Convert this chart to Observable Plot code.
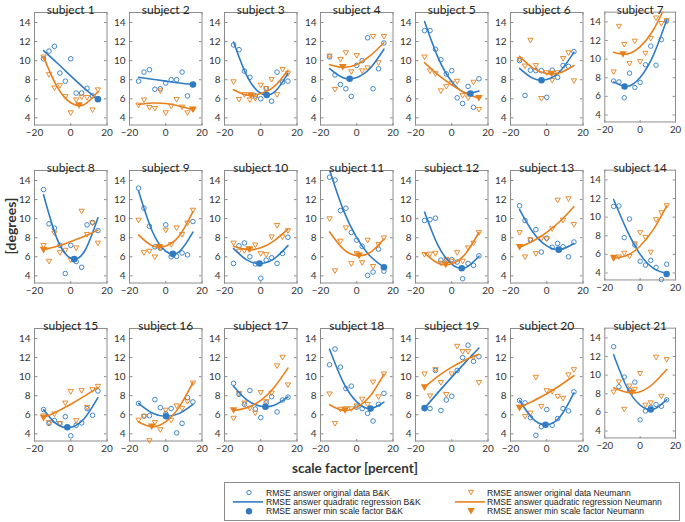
<!DOCTYPE html>
<html><head><meta charset="utf-8">
<script src="https://cdn.jsdelivr.net/npm/d3@7"></script>
<script src="https://cdn.jsdelivr.net/npm/@observablehq/plot@0.6"></script>
<style>
body{margin:0;background:#fff;}
#fig{position:relative;width:685px;height:522px;overflow:hidden;background:#fff;font-family:Lato,"Liberation Sans",sans-serif;}
.panel{position:absolute;}
.panel svg{overflow:visible;}
.lab{position:absolute;font-weight:bold;color:#333;white-space:nowrap;}
</style></head><body><div id="fig"></div>
<script>
// ---------- data ----------
const subjects = ["subject 1","subject 2","subject 3","subject 4","subject 5","subject 6","subject 7",
  "subject 8","subject 9","subject 10","subject 11","subject 12","subject 13","subject 14",
  "subject 15","subject 16","subject 17","subject 18","subject 19","subject 20","subject 21"];
const scaleFactors = [-15,-12,-9,-6,-3,0,3,6,9,12,15];
const fitX = [-15,-7.5,0,7.5,15];
const xTicks = [-20,0,20];
const yTicks = [4,6,8,10,12,14];

// RMSE answer original data B&K (per subject, at scaleFactors)
const bkData = [
  [10.2,11.0,11.5,8.7,7.85,10.2,6.6,6.6,7.1,6.3,6.0],
  [7.85,8.8,9.05,7.0,7.05,7.65,8.0,8.0,8.8,6.3,7.5],
  [11.65,11.15,8.9,8.25,6.3,6.0,7.05,5.75,8.8,7.75,7.85],
  [10.4,8.5,7.5,7.05,6.25,9.5,10.0,12.4,7.05,9.15,11.85],
  [13.15,13.15,11.2,10.1,8.6,8.95,6.1,5.5,7.3,5.1,8.1],
  [10.0,6.35,9.0,8.95,8.95,6.15,9.0,8.25,9.5,9.4,10.95],
  [7.65,7.55,5.85,8.5,6.95,7.5,9.4,11.4,9.35,12.1,14.1],
  [13.05,9.45,9.0,7.2,4.25,7.2,5.5,4.9,9.35,9.6,8.75],
  [13.2,11.1,9.2,7.05,6.9,9.35,6.0,6.05,6.4,6.2,9.7],
  [5.3,7.15,7.45,6.0,5.25,3.75,5.65,5.9,5.3,6.35,8.05],
  [14.35,14.05,10.85,11.1,8.55,7.75,7.1,4.05,4.4,6.8,4.5],
  [9.8,9.9,10.05,5.65,5.6,5.7,5.45,3.7,5.3,5.1,6.1],
  [11.35,9.8,7.75,8.85,6.5,7.95,7.0,7.4,7.05,6.0,7.55],
  [11.15,11.2,7.8,9.8,7.0,5.25,4.85,5.35,4.6,3.3,4.95],
  [6.55,5.1,5.4,5.05,5.8,3.8,4.9,5.15,6.65,5.95,8.5],
  [7.2,5.85,5.9,7.6,6.75,6.1,6.65,4.1,5.1,7.8,7.35],
  [9.3,8.15,7.1,8.55,6.6,5.7,7.25,7.9,6.3,7.55,7.85],
  [11.25,12.9,11.0,8.75,9.0,6.8,6.65,6.15,5.35,7.1,8.25],
  [6.65,6.65,10.65,6.45,7.55,7.95,10.65,12.0,13.3,11.6,12.1],
  [7.5,7.25,5.7,3.85,4.75,6.55,4.9,5.6,6.65,6.4,8.4],
  [13.05,8.75,9.8,8.4,9.25,5.2,6.15,6.55,6.85,6.65,7.35]
];
// RMSE answer original data Neumann
const neuData = [
  [10.35,8.5,7.1,7.35,6.2,4.5,5.85,6.15,6.1,4.8,6.9],
  [5.3,5.85,5.05,4.95,6.8,4.5,5.2,5.9,5.1,4.5,4.85],
  [7.75,5.9,6.4,5.85,6.0,7.4,7.05,8.0,6.4,9.05,8.6],
  [10.45,6.95,10.1,10.8,8.8,10.5,8.9,9.2,12.5,9.75,12.5],
  [10.35,8.9,8.6,6.8,7.25,7.6,7.8,6.3,6.05,7.7,4.85],
  [10.1,9.4,12.1,9.45,6.0,8.7,7.9,8.7,10.2,10.8,7.85],
  [8.6,13.5,11.55,9.5,11.9,9.7,10.6,12.2,14.4,13.8,14.1],
  [7.15,5.5,8.45,6.4,6.65,5.65,6.9,10.75,8.3,9.5,7.4],
  [9.8,6.4,6.55,5.95,6.9,8.75,7.25,9.0,8.3,9.5,10.85],
  [7.4,6.55,6.6,6.75,7.2,6.3,6.2,8.05,9.25,8.05,8.7],
  [9.95,4.5,7.6,9.0,5.25,6.3,5.35,7.7,4.95,7.25,7.95],
  [6.2,6.25,6.3,5.3,5.7,5.5,6.4,5.5,6.9,7.4,8.5],
  [8.5,5.95,7.75,6.3,7.85,7.85,8.9,11.9,9.8,12.05,9.35],
  [5.5,5.7,6.1,5.75,7.1,8.3,7.8,6.2,9.7,10.45,11.2],
  [5.85,5.15,6.05,5.05,7.2,8.4,5.35,8.5,6.75,8.6,8.95],
  [5.4,5.8,3.25,5.15,4.4,6.45,5.4,6.9,6.65,7.35,9.3],
  [5.6,8.2,7.2,6.65,6.15,8.3,7.35,8.25,11.1,12.0,9.1],
  [8.15,5.05,6.55,6.6,6.6,6.9,7.6,7.05,9.4,7.85,10.25],
  [10.25,7.95,10.7,9.35,8.1,10.25,13.15,12.6,12.6,12.0,9.35],
  [6.75,5.8,6.15,9.9,6.85,8.5,8.4,7.9,7.7,10.15,10.7],
  [8.15,9.25,6.3,8.8,8.45,10.15,6.75,7.0,11.9,7.7,11.65]
];
// quadratic regression curves, read at fitX
const bkFit = [
  [11.05,9.75,8.4,7.1,5.95],[8.25,8.05,7.85,7.65,7.5],[11.95,8.34,6.58,6.69,8.67],
  [9.17,8.21,8.23,9.22,11.2],[14.1,10.29,7.8,6.64,6.81],[9.2,8.14,8.03,8.92,10.9],
  [7.55,7.07,8.03,10.43,14.2],[12.5,7.85,5.85,6.55,10.1],[12.9,8.7,6.58,6.54,8.58],
  [6.85,5.65,5.3,5.81,7.17],[15.1,10.95,8.0,6.05,4.9],[10.68,7.17,5.22,4.86,6.06],
  [10.95,8.54,7.14,6.76,7.39],[11.9,8.6,6.0,4.5,3.95],[6.54,4.99,4.69,5.62,7.8],
  [7.2,6.19,5.85,6.15,7.1],[9.0,7.53,6.9,7.01,7.88],[12.88,9.43,7.36,6.65,7.32],
  [6.7,8.35,9.95,11.5,13.0],[7.5,5.55,4.96,5.82,8.3],[12.2,8.7,6.78,6.33,7.37]
];
const neuFit = [
  [10.4,7.24,5.58,5.41,6.73],[5.4,5.55,5.5,5.25,4.85],[6.95,6.38,6.55,7.3,9.0],
  [9.57,9.3,9.6,10.53,11.88],[9.8,8.5,7.45,6.6,6.05],[10.45,9.21,8.64,8.74,9.49],
  [10.75,10.54,11.35,13.16,15.99],[6.75,7.1,7.6,8.15,8.8],[8.3,7.16,7.14,8.2,10.75],
  [7.1,6.76,6.94,7.7,8.9],[8.6,6.83,6.12,6.46,7.86],[6.4,5.32,5.26,6.3,8.55],
  [7.0,7.65,8.55,9.75,11.25],[5.6,5.87,6.9,8.68,11.2],[5.7,6.35,7.1,7.95,8.85],
  [5.25,4.75,5.28,6.83,9.39],[6.45,6.75,7.5,8.9,10.9],[7.05,6.46,6.8,8.0,10.25],
  [8.9,10.05,11.0,11.75,12.35],[6.75,7.45,8.2,9.1,10.1],[8.65,8.15,8.22,9.1,10.6]
];
// min scale factor [x, y]
const bkMin = [[15,5.95],[15,7.5],[3.3,6.4],[-3.9,8.1],[10.3,6.55],[-2.9,7.95],[-8.8,7.05],
  [1.9,5.75],[3.9,6.3],[-0.7,5.3],[15,4.9],[5.5,4.8],[6.6,6.75],[15,3.9],
  [-1.9,4.7],[0.2,5.85],[2.6,6.85],[7.6,6.65],[-15,6.7],[-0.7,4.95],[6,6.3]];
const neuMin = [[4.6,5.3],[15,4.85],[-5.5,6.35],[-7.7,9.3],[15,6.05],[2.7,8.6],[-9.7,10.5],
  [-15,6.7],[-3.6,7.0],[-6.4,6.75],[1.3,6.1],[-3.3,5.15],[-15,7.0],[-15,5.6],
  [-15,5.65],[-7.7,4.75],[-15,6.45],[-6.5,6.45],[-15,8.85],[-15,6.7],[-4.6,8.1]];

// ---------- drawing ----------
const blue = "#2f7bc4", orange = "#e8801c", frameColor = "#8c8c8c";
const triDown = {draw(ctx, size){ const r = Math.sqrt(size/Math.PI); const w = r*1.15, h = r*1.0;
  ctx.moveTo(-w,-h); ctx.lineTo(w,-h); ctx.lineTo(0,h); ctx.closePath(); }};

const fig = document.getElementById("fig");
const mL = 30, mR = 10, mT = 14, mB = 22, fw = 72.5, fh = 112.5;

subjects.forEach((name, i) => {
  const col = i % 7, row = Math.floor(i / 7);
  const fl = 34 + 95.2 * col, ft = 11.7 + 158.3 * row;
  const pts = scaleFactors.map((x, j) => ({x, bk: bkData[i][j], neu: neuData[i][j]}));
  const fit = fitX.map((x, j) => ({x, bk: bkFit[i][j], neu: neuFit[i][j]}));
  const chart = Plot.plot({
    width: mL + fw + mR, height: mT + fh + mB,
    marginLeft: mL, marginRight: mR, marginTop: mT, marginBottom: mB,
    x: {domain: [-20, 20]},
    y: {domain: [3.25, 15.05]},
    style: {fontFamily: "Lato, 'Liberation Sans', sans-serif", fontSize: "10px", color: "#333", background: "transparent", overflow: "visible"},
    marks: [
      Plot.axisY({ticks: yTicks, tickSize: 0, tickPadding: 4, label: null}),
      Plot.axisX({ticks: xTicks, tickSize: 0, tickPadding: 4, label: null}),
      Plot.axisY({ticks: yTicks, anchor: "right", frameAnchor: "left", tickSize: 2.5, tickFormat: () => "", label: null, stroke: frameColor}),
      Plot.axisY({ticks: yTicks, anchor: "left", frameAnchor: "right", tickSize: 2.5, tickFormat: () => "", label: null, stroke: frameColor}),
      Plot.axisX({ticks: xTicks, anchor: "top", frameAnchor: "bottom", tickSize: 2.5, tickFormat: () => "", label: null, stroke: frameColor}),
      Plot.axisX({ticks: xTicks, anchor: "bottom", frameAnchor: "top", tickSize: 2.5, tickFormat: () => "", label: null, stroke: frameColor}),
      Plot.frame({stroke: frameColor, strokeWidth: 1}),
      Plot.dot(pts, {x: "x", y: "bk", r: 2.3, stroke: blue, strokeWidth: 0.9}),
      Plot.dot(pts, {x: "x", y: "neu", r: 2.3, symbol: triDown, stroke: orange, strokeWidth: 0.9}),
      Plot.line(fit, {x: "x", y: "bk", curve: "natural", stroke: blue, strokeWidth: 1.6, clip: true}),
      Plot.line(fit, {x: "x", y: "neu", curve: "natural", stroke: orange, strokeWidth: 1.6, clip: true}),
      Plot.dot([bkMin[i]], {x: d => d[0], y: d => d[1], r: 3.3, fill: blue}),
      Plot.dot([neuMin[i]], {x: d => d[0], y: d => d[1], r: 3.3, symbol: triDown, fill: orange}),
      Plot.text([name], {text: d => d, frameAnchor: "top", dy: -7, fontSize: 12, fill: "#222"})
    ]
  });
  const div = document.createElement("div");
  div.className = "panel";
  div.style.left = (fl - mL) + "px";
  div.style.top = (ft - mT) + "px";
  div.appendChild(chart);
  fig.appendChild(div);
});

// axis titles
const yl = document.createElement("div");
yl.className = "lab"; yl.textContent = "[degrees]";
yl.style.cssText += "font-size:14px;left:10px;top:226px;transform:translate(-50%,-50%) rotate(-90deg);";
fig.appendChild(yl);
const xl = document.createElement("div");
xl.className = "lab"; xl.textContent = "scale factor [percent]";
xl.style.cssText += "font-size:13.5px;left:355px;top:468px;transform:translate(-50%,-50%);";
fig.appendChild(xl);

// legend
const legendItems = [
  {label: "RMSE answer original data B&K", kind: "circle", col: 0, row: 0},
  {label: "RMSE answer quadratic regression B&K", kind: "line", col: 0, row: 1},
  {label: "RMSE answer min scale factor B&K", kind: "dot", col: 0, row: 2},
  {label: "RMSE answer original data Neumann", kind: "tri", col: 1, row: 0},
  {label: "RMSE answer quadratic regression Neumann", kind: "line", col: 1, row: 1},
  {label: "RMSE answer min scale factor Neumann", kind: "ftri", col: 1, row: 2}
];
const svg = d3.select(fig).append("svg").attr("width", 685).attr("height", 522)
  .style("position", "absolute").style("left", 0).style("top", 0).style("pointer-events", "none");
svg.append("rect").attr("x", 224.5).attr("y", 482.5).attr("width", 455).attr("height", 38)
  .attr("fill", "#fff").attr("stroke", "#8c8c8c");
legendItems.forEach(it => {
  const mx = it.col ? 471 : 249, tx = it.col ? 487 : 266, y = 492.5 + it.row * 9.4;
  const c = it.col ? orange : blue;
  if (it.kind === "circle") svg.append("circle").attr("cx", mx).attr("cy", y).attr("r", 2.2).attr("fill", "none").attr("stroke", c).attr("stroke-width", 0.9);
  if (it.kind === "dot") svg.append("circle").attr("cx", mx).attr("cy", y).attr("r", 3.2).attr("fill", c);
  if (it.kind === "line") svg.append("line").attr("x1", mx - 16).attr("x2", mx + 14).attr("y1", y).attr("y2", y).attr("stroke", c).attr("stroke-width", 1.6);
  if (it.kind === "tri") svg.append("path").attr("d", `M${mx-2.6},${y-2.2}L${mx+2.6},${y-2.2}L${mx},${y+2.2}Z`).attr("fill", "none").attr("stroke", c).attr("stroke-width", 0.9);
  if (it.kind === "ftri") svg.append("path").attr("d", `M${mx-3.7},${y-3.2}L${mx+3.7},${y-3.2}L${mx},${y+3.2}Z`).attr("fill", c);
  svg.append("text").attr("x", tx).attr("y", y).attr("dy", "0.35em").attr("font-size", 8.6)
    .attr("font-family", "'Liberation Sans', Arial, sans-serif").attr("fill", "#222").text(it.label);
});
</script></body></html>
